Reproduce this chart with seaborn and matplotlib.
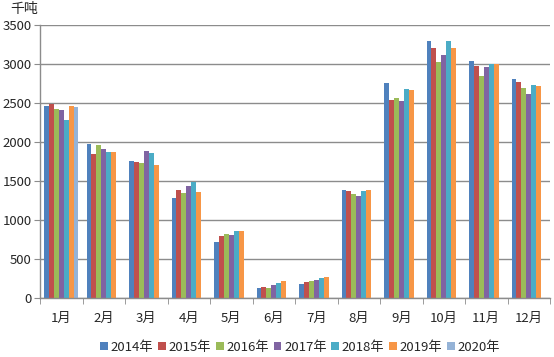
import numpy as np
import pandas as pd
import matplotlib
matplotlib.use("Agg")
import matplotlib.pyplot as plt
import seaborn as sns

months = ["1月", "2月", "3月", "4月", "5月", "6月", "7月", "8月", "9月", "10月", "11月", "12月"]
years = ["2014年", "2015年", "2016年", "2017年", "2018年", "2019年", "2020年"]

# monthly values (千吨), 2020 only has January
v2014 = [2465, 1970, 1760, 1278, 713, 124, 180, 1381, 2752, 3298, 3042, 2803]
v2015 = [2483, 1850, 1743, 1385, 790, 137, 205, 1368, 2538, 3209, 2978, 2765]
v2016 = [2423, 1961, 1726, 1350, 815, 133, 214, 1338, 2568, 3030, 2842, 2688]
v2017 = [2406, 1906, 1888, 1440, 808, 163, 235, 1312, 2521, 3115, 2961, 2620]
v2018 = [2286, 1867, 1863, 1483, 860, 188, 252, 1372, 2679, 3300, 3000, 2731]
v2019 = [2465, 1867, 1705, 1355, 860, 214, 265, 1384, 2662, 3210, 3000, 2718]
v2020 = [2449] + [np.nan] * 11

colors = ["#4F81BD", "#C0504D", "#9BBB59", "#8064A2", "#4BACC6", "#F79646", "#95B3D7"]

rows = []
for yr, vals in zip(years, [v2014, v2015, v2016, v2017, v2018, v2019, v2020]):
    for m, v in zip(months, vals):
        rows.append({"month": m, "year": yr, "value": v})
df = pd.DataFrame(rows)

sns.set_style("white")
plt.rcParams["font.family"] = ["Noto Sans CJK SC", "DejaVu Sans"]

fig = plt.figure(figsize=(5.54, 3.57), dpi=100)
ax = fig.add_axes([40 / 554, 59 / 357, 510 / 554, 273 / 357])

sns.barplot(data=df, x="month", y="value", hue="year", order=months, hue_order=years,
            palette=colors, width=0.81, errorbar=None, ax=ax, saturation=1, linewidth=0)

ax.set_ylim(0, 3500)
ax.set_yticks(range(0, 3501, 500))
ax.set_xlim(-0.5, 11.5)
ax.yaxis.grid(True, color="#8c8c8c", linewidth=1)
ax.set_axisbelow(True)
ax.set_xlabel("")
ax.set_ylabel("")

for s in ["top", "right"]:
    ax.spines[s].set_visible(False)
for s in ["left", "bottom"]:
    ax.spines[s].set_color("#8c8c8c")
    ax.spines[s].set_linewidth(1)

ax.tick_params(axis="y", length=4, color="#8c8c8c", labelsize=9.5, pad=2, left=True)
ax.tick_params(axis="x", which="major", length=0, labelsize=9.5, pad=10)
ax.set_xticks(np.arange(-0.5, 12, 1), minor=True)
ax.tick_params(axis="x", which="minor", length=4, color="#8c8c8c", bottom=True)

fig.text(10 / 554, 1 - 9 / 357, "千吨", fontsize=10, va="center", ha="left")

ax.legend(loc="center", bbox_to_anchor=(0.51, -0.18), ncol=7, frameon=False,
          fontsize=9.5, handlelength=0.6, handleheight=0.6, handletextpad=0.2,
          columnspacing=0.35, borderaxespad=0)

fig.savefig("out.png", dpi=100)
